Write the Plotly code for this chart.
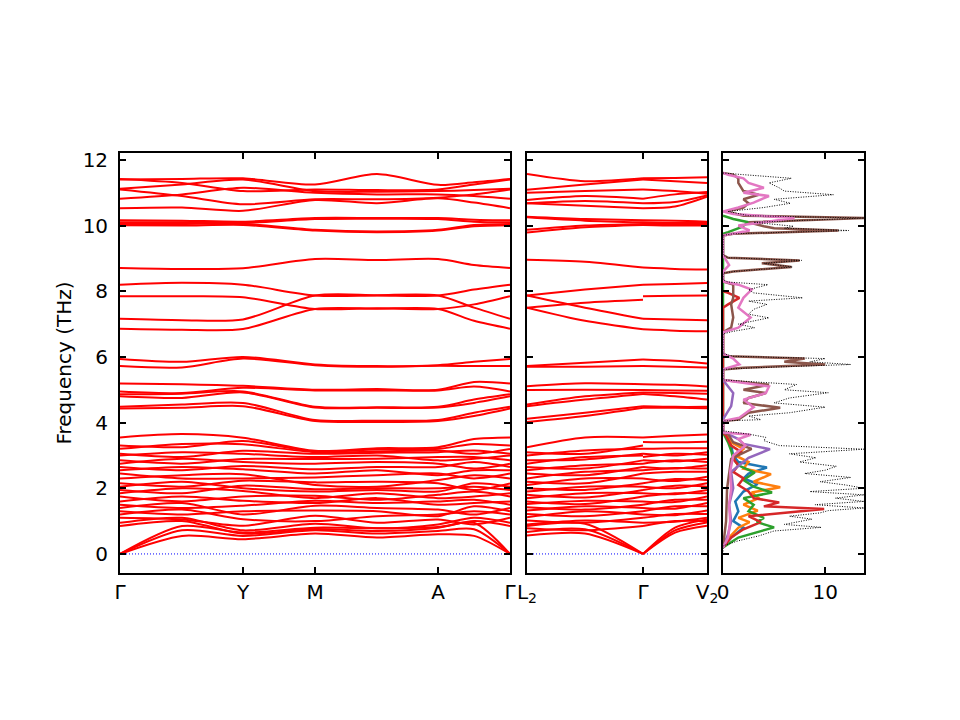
# phonon band structure + projected DOS
import plotly.graph_objects as go

# ---- k-path 1: G - Y - M - A - G (distances along path)
k1_ticks = [0.0, 1.23, 1.95, 3.18, 3.90]
k1_labels = ['Γ', 'Y', 'M', 'A', 'Γ']
k1 = [0.0, 0.62, 1.23, 1.95, 2.57, 3.18, 3.54, 3.90]

# frequencies (THz) of each band at the points in k1
path1_bands = [
    # acoustic
    [0.00, 0.55, 0.45, 0.62, 0.50, 0.60, 0.55, 0.00],
    [0.00, 0.72, 0.55, 0.72, 0.62, 0.70, 0.75, 0.00],
    [0.00, 0.85, 0.65, 0.80, 0.78, 0.82, 0.95, 0.00],
    # low optic
    [0.85, 1.00, 0.62, 0.76, 0.70, 0.80, 1.00, 0.85],
    [0.95, 1.10, 0.72, 0.92, 0.78, 0.90, 1.10, 0.95],
    [1.10, 1.05, 0.86, 1.16, 0.95, 1.05, 0.90, 1.10],
    [1.20, 1.35, 1.06, 1.00, 1.15, 1.20, 1.30, 1.20],
    [1.30, 1.20, 1.30, 1.32, 1.30, 1.15, 1.45, 1.30],
    [1.40, 1.55, 1.20, 1.47, 1.40, 1.35, 1.20, 1.40],
    [1.50, 1.40, 1.47, 1.62, 1.55, 1.60, 1.65, 1.50],
    [1.60, 1.75, 1.62, 1.55, 1.70, 1.50, 1.55, 1.60],
    [1.75, 1.60, 1.75, 1.77, 1.65, 1.80, 1.90, 1.75],
    [1.85, 2.00, 1.92, 1.70, 1.85, 1.70, 1.75, 1.85],
    [1.95, 1.85, 2.08, 1.97, 2.00, 2.00, 2.05, 1.95],
    [2.05, 2.20, 2.00, 1.90, 1.95, 1.90, 2.15, 2.05],
    [2.15, 2.05, 2.23, 2.18, 2.20, 2.15, 1.95, 2.15],
    [2.30, 2.40, 2.43, 2.10, 2.05, 2.25, 2.40, 2.30],
    [2.45, 2.30, 2.30, 2.33, 2.40, 2.45, 2.30, 2.45],
    [2.55, 2.65, 2.58, 2.45, 2.55, 2.40, 2.55, 2.55],
    [2.65, 2.55, 2.68, 2.58, 2.65, 2.65, 2.80, 2.65],
    [2.75, 2.90, 2.80, 2.75, 2.80, 2.75, 2.60, 2.75],
    [2.85, 2.75, 2.89, 2.89, 2.90, 2.95, 2.95, 2.85],
    [3.00, 3.10, 3.05, 2.95, 3.00, 2.85, 2.90, 3.00],
    [3.05, 2.95, 3.14, 3.05, 3.08, 3.10, 3.15, 3.05],
    [3.20, 3.35, 3.34, 3.10, 3.12, 3.15, 3.05, 3.20],
    [3.30, 3.25, 3.44, 3.12, 3.18, 3.20, 3.35, 3.30],
    [3.55, 3.65, 3.54, 3.14, 3.22, 3.25, 3.50, 3.55],
    # 4 - 5.2 THz
    [5.19, 5.17, 5.12, 5.00, 5.02, 5.00, 5.24, 5.19],
    [4.95, 4.90, 5.06, 4.98, 4.98, 4.98, 5.10, 4.95],
    [4.86, 4.88, 4.95, 4.48, 4.47, 4.48, 4.70, 4.86],
    [4.80, 4.75, 4.92, 4.46, 4.45, 4.46, 4.60, 4.80],
    [4.48, 4.55, 4.60, 4.08, 4.06, 4.08, 4.30, 4.48],
    [4.43, 4.45, 4.50, 4.05, 4.02, 4.05, 4.20, 4.43],
    # ~6 THz
    [5.94, 5.85, 6.00, 5.77, 5.72, 5.75, 5.85, 5.94],
    [5.72, 5.68, 5.95, 5.75, 5.70, 5.73, 5.72, 5.72],
    # 6.8 - 9 THz
    [6.86, 6.83, 6.85, 7.46, 7.47, 7.46, 7.10, 6.86],
    [7.16, 7.12, 7.14, 7.87, 7.88, 7.87, 7.50, 7.16],
    [7.85, 7.85, 7.82, 7.46, 7.48, 7.46, 7.60, 7.85],
    [8.20, 8.26, 8.20, 7.87, 7.87, 7.87, 8.05, 8.20],
    [8.71, 8.68, 8.70, 8.98, 8.95, 8.98, 8.80, 8.71],
    # 9.8 - 11.6 THz
    [10.01, 10.00, 10.02, 9.85, 9.80, 9.85, 9.98, 10.01],
    [10.05, 10.05, 10.05, 9.87, 9.82, 9.87, 10.02, 10.05],
    [10.10, 10.10, 10.08, 10.20, 10.21, 10.20, 10.12, 10.10],
    [10.16, 10.15, 10.12, 10.23, 10.23, 10.23, 10.18, 10.16],
    [10.53, 10.55, 10.45, 10.78, 10.68, 10.83, 10.70, 10.53],
    [10.82, 10.95, 11.15, 11.00, 10.95, 10.95, 10.90, 10.82],
    [11.10, 10.90, 10.65, 10.80, 10.80, 10.85, 10.95, 11.10],
    [11.12, 11.25, 11.40, 11.05, 11.03, 11.05, 11.08, 11.12],
    [11.40, 11.42, 11.44, 11.25, 11.57, 11.24, 11.32, 11.42],
    [11.42, 11.30, 11.05, 11.10, 11.08, 11.10, 11.25, 11.40],
]

# ---- k-path 2: L2 - G - V2
k2_ticks = [0.0, 1.16, 1.80]
k2_labels = ['L<sub>2</sub>', 'Γ', 'V<sub>2</sub>']
k2a = [0.0, 0.58, 1.16]
k2b = [1.16, 1.48, 1.80]

path2a_bands = [
    [0.56, 0.62, 0.00], [0.67, 0.75, 0.00], [0.85, 0.92, 0.00],
    [0.78, 0.72, 0.85], [0.90, 1.02, 0.95], [1.02, 0.95, 1.10],
    [1.12, 1.30, 1.20], [1.22, 1.15, 1.30], [1.32, 1.45, 1.40],
    [1.42, 1.35, 1.50], [1.52, 1.62, 1.60], [1.60, 1.52, 1.75],
    [1.70, 1.85, 1.85], [1.80, 1.72, 1.95], [1.90, 2.05, 2.05],
    [2.00, 1.95, 2.15], [2.10, 2.30, 2.30], [2.20, 2.15, 2.45],
    [2.30, 2.50, 2.55], [2.45, 2.40, 2.65], [2.55, 2.70, 2.75],
    [2.65, 2.60, 2.85], [2.75, 2.95, 3.00], [2.85, 2.88, 3.05],
    [3.00, 3.15, 3.20], [3.10, 3.05, 3.30], [3.25, 3.55, 3.55],
    [5.11, 5.20, 5.17], [4.99, 5.00, 4.99], [4.55, 4.80, 4.92],
    [4.50, 4.70, 4.87], [4.12, 4.30, 4.50], [4.02, 4.20, 4.45],
    [5.72, 5.82, 5.92], [5.70, 5.70, 5.72],
    [7.87, 8.05, 8.20], [7.87, 7.50, 7.16], [7.50, 7.65, 7.74],
    [7.50, 7.10, 6.84], [8.96, 8.90, 8.72],
    [10.27, 10.20, 10.16], [10.25, 10.15, 10.10], [9.87, 10.00, 10.05],
    [9.79, 9.95, 10.02], [10.68, 10.60, 10.53], [10.68, 10.75, 10.68],
    [10.78, 10.90, 10.82], [11.00, 11.05, 11.10], [11.09, 11.25, 11.40],
    [11.57, 11.35, 11.44],
]

path2b_bands = [
    [0.00, 0.65, 0.86], [0.00, 0.72, 0.96], [0.00, 0.80, 1.05],
    [0.85, 1.00, 1.00], [0.95, 0.98, 1.10], [1.10, 1.22, 1.22],
    [1.20, 1.18, 1.32], [1.30, 1.45, 1.45], [1.40, 1.38, 1.55],
    [1.50, 1.65, 1.65], [1.60, 1.58, 1.75], [1.75, 1.85, 1.85],
    [1.85, 1.82, 1.95], [1.95, 2.08, 2.05], [2.05, 2.00, 2.15],
    [2.15, 2.28, 2.25], [2.30, 2.22, 2.35], [2.45, 2.50, 2.50],
    [2.55, 2.62, 2.60], [2.65, 2.60, 2.70], [2.75, 2.85, 2.80],
    [2.85, 2.82, 2.90], [2.95, 3.05, 3.02], [3.05, 3.00, 3.10],
    [3.20, 3.22, 3.22], [3.41, 3.40, 3.42], [3.55, 3.60, 3.64],
    [5.17, 5.15, 5.10], [4.99, 4.98, 4.97], [4.92, 4.90, 4.88],
    [4.87, 4.80, 4.70], [4.50, 4.48, 4.48], [4.45, 4.45, 4.44],
    [5.92, 5.88, 5.80], [5.72, 5.70, 5.68],
    [8.20, 8.22, 8.25], [7.16, 7.14, 7.12], [7.85, 7.86, 7.87],
    [6.84, 6.80, 6.78], [8.72, 8.68, 8.66],
    [10.16, 10.15, 10.12], [10.10, 10.08, 10.08], [10.05, 10.05, 10.05],
    [10.02, 10.00, 10.00], [10.53, 10.58, 10.88], [10.68, 10.72, 10.92],
    [10.82, 10.95, 11.02], [11.10, 11.05, 10.97], [11.40, 11.35, 11.30],
    [11.44, 11.45, 11.47],
]

# ---- DOS (states/THz) vs frequency
dos_total_f = [0.0, 0.25, 0.4, 0.55, 0.7, 0.81, 0.9, 1.0, 1.06, 1.15, 1.25, 1.32, 1.4,
               1.5, 1.6, 1.7, 1.8, 1.9, 2.0, 2.1, 2.2, 2.33, 2.45, 2.55, 2.67, 2.8,
               2.93, 3.05, 3.19, 3.3, 3.45, 3.55, 3.65, 3.75, 4.0, 4.05, 4.09, 4.2,
               4.3, 4.47, 4.6, 4.75, 4.91, 5.0, 5.16, 5.26, 5.3, 5.62, 5.67, 5.77,
               5.85, 5.95, 6.02, 6.1, 6.7, 6.78, 6.89, 7.0, 7.19, 7.3, 7.45, 7.6,
               7.7, 7.8, 7.95, 8.05, 8.2, 8.28, 8.35, 8.55, 8.6, 8.74, 8.85, 8.94,
               9.02, 9.1, 9.7, 9.75, 9.85, 9.92, 9.98, 10.1, 10.23, 10.3, 10.43,
               10.55, 10.68, 10.8, 10.94, 11.05, 11.15, 11.3, 11.44, 11.55, 11.6]
dos_total = [0.0, 0.0, 1.5, 3.5, 5.0, 9.6, 6.0, 7.5, 8.7, 6.5, 9.5, 10.3, 13.8,
             9.0, 13.8, 11.0, 13.8, 8.5, 13.8, 12.0, 9.5, 12.5, 8.0, 10.0, 11.1, 7.5,
             9.1, 6.5, 13.8, 5.5, 4.0, 4.2, 2.5, 0.0, 0.0, 0.0, 3.7, 2.5,
             6.5, 10.0, 5.0, 6.5, 10.3, 6.0, 7.2, 2.0, 0.0, 0.0, 3.0, 12.5,
             8.5, 10.0, 1.0, 0.0, 0.0, 1.0, 3.1, 1.5, 4.5, 2.5, 3.0, 4.3,
             2.5, 7.8, 3.0, 2.5, 4.4, 0.5, 0.0, 0.0, 1.0, 6.8, 4.0, 7.7,
             0.5, 0.0, 0.0, 1.0, 12.3, 6.0, 6.9, 3.0, 13.8, 2.5, 0.5,
             4.0, 6.6, 5.0, 10.8, 6.0, 5.5, 4.5, 6.7, 2.0, 0.0]

pdos_blue_f = [0.2, 0.5, 0.8, 1.0, 1.3, 1.6, 1.9, 2.13, 2.3, 2.45, 2.63, 2.8, 3.0, 3.3, 3.6, 3.7]
pdos_blue = [0.0, 0.8, 2.0, 1.0, 1.5, 1.2, 2.0, 3.4, 2.0, 2.5, 4.3, 1.5, 1.0, 0.8, 0.3, 0.0]

pdos_orange_f = [0.2, 0.5, 0.8, 0.97, 1.1, 1.32, 1.5, 1.7, 1.87, 2.03, 2.2, 2.43, 2.6, 2.8,
                 3.0, 3.2, 3.4, 3.65, 3.7]
pdos_orange = [0.0, 0.6, 1.5, 2.6, 1.5, 3.4, 2.0, 3.5, 2.8, 5.6, 3.0, 4.7, 2.0, 2.5,
               1.2, 2.0, 0.8, 0.3, 0.0]

pdos_green_f = [0.2, 0.5, 0.81, 0.97, 1.1, 1.3, 1.5, 1.7, 1.87, 2.05, 2.25, 2.48, 2.7, 2.9,
                3.15, 3.4, 3.7, 9.75, 9.8, 9.95, 10.1, 10.2, 10.3]
pdos_green = [0.0, 1.5, 5.0, 3.3, 4.0, 2.5, 3.0, 2.0, 4.8, 3.0, 2.0, 3.1, 1.5, 1.0,
              0.8, 0.5, 0.0, 0.0, 0.5, 1.8, 2.5, 1.0, 0.0]

pdos_red_f = [0.2, 0.5, 0.75, 0.97, 1.15, 1.37, 1.45, 1.57, 1.7, 1.9, 2.1, 2.3, 2.5, 2.7,
              2.9, 3.1, 3.3, 3.6, 3.7, 7.5, 7.6, 7.8, 7.95, 8.0]
pdos_red = [0.0, 0.8, 2.0, 3.7, 2.5, 9.9, 4.0, 5.5, 3.0, 2.5, 1.5, 2.0, 1.0, 1.5,
            1.0, 1.8, 0.8, 0.3, 0.0, 0.0, 0.5, 1.6, 0.5, 0.0]

pdos_purple_f = [0.2, 0.6, 1.0, 1.5, 2.0, 2.5, 2.93, 3.19, 3.35, 3.5, 3.65, 3.7,
                 4.1, 4.5, 4.9, 5.1, 5.3]
pdos_purple = [0.0, 0.5, 0.8, 0.6, 1.0, 0.8, 2.5, 4.6, 2.0, 1.5, 0.5, 0.0,
               0.0, 0.8, 1.0, 0.5, 0.0]

pdos_brown_f = [0.2, 1.0, 2.0, 2.9, 3.2, 3.4, 3.65, 3.7, 4.05, 4.09, 4.3, 4.45, 4.6, 4.75,
                4.9, 5.0, 5.15, 5.26, 5.3, 5.62, 5.67, 5.77, 5.85, 5.95, 6.02, 6.1,
                6.75, 6.89, 7.2, 7.6, 7.8, 8.2, 8.3, 8.55, 8.6, 8.74, 8.85, 8.94, 9.02,
                9.1, 9.7, 9.75, 9.85, 9.92, 9.98, 10.1, 10.23, 10.3, 10.43, 10.55,
                10.68, 10.8, 10.94, 11.05, 11.3, 11.44, 11.55, 11.6]
pdos_brown = [0.0, 0.3, 0.4, 0.8, 2.8, 1.0, 0.5, 0.0, 0.0, 1.5, 2.5, 5.6, 2.0, 2.5,
              4.2, 2.0, 4.5, 1.0, 0.0, 0.0, 2.0, 10.0, 6.0, 8.0, 0.5, 0.0,
              0.0, 0.8, 1.0, 0.8, 1.0, 1.0, 0.0, 0.0, 1.0, 6.7, 3.8, 7.5, 0.5,
              0.0, 0.0, 1.0, 11.3, 5.0, 4.0, 2.5, 13.8, 2.0, 0.3, 2.0,
              2.5, 2.0, 3.5, 2.0, 1.5, 1.5, 1.0, 0.0]

pdos_pink_f = [0.2, 0.5, 1.0, 1.5, 2.0, 2.5, 3.0, 3.3, 3.5, 3.63, 3.7, 4.05, 4.15, 4.47,
               4.7, 4.9, 5.1, 5.26, 5.3, 5.62, 5.77, 5.95, 6.1, 6.75, 6.89, 7.2, 7.5,
               7.8, 8.05, 8.2, 8.3, 8.6, 8.8, 9.1, 9.7, 9.85, 10.0, 10.23, 10.35,
               10.43, 10.55, 10.7, 10.9, 11.0, 11.15, 11.3, 11.44, 11.55, 11.6]
pdos_pink = [0.0, 0.5, 0.7, 0.6, 0.8, 0.7, 1.0, 2.2, 1.5, 2.7, 0.0, 0.0, 1.6, 3.0,
             2.0, 4.2, 4.5, 1.0, 0.0, 0.0, 1.6, 1.0, 0.0, 0.0, 1.5, 2.7, 1.5,
             2.0, 2.8, 1.5, 0.0, 0.0, 0.6, 0.0, 0.0, 2.6, 1.5, 7.0, 1.0,
             0.0, 1.5, 3.0, 4.5, 2.0, 4.0, 2.5, 2.0, 0.5, 0.0]

pdos = [
    (pdos_blue_f, pdos_blue, '#1f77b4'),
    (pdos_orange_f, pdos_orange, '#ff7f0e'),
    (pdos_green_f, pdos_green, '#2ca02c'),
    (pdos_red_f, pdos_red, '#d62728'),
    (pdos_purple_f, pdos_purple, '#9467bd'),
    (pdos_brown_f, pdos_brown, '#8c564b'),
    (pdos_pink_f, pdos_pink, '#e377c2'),
]

y_range = [-0.58, 12.21]
y_ticks = [0, 2, 4, 6, 8, 10, 12]
dos_range = [0, 13.8]
dos_ticks = [0, 10]


def band_trace(ks, bands, xa, ya):
    xs, ys = [], []
    for b in bands:
        xs += list(ks) + [None]
        ys += list(b) + [None]
    return go.Scatter(x=xs, y=ys, mode='lines', xaxis=xa, yaxis=ya,
                      line=dict(color='red', width=2, shape='spline', smoothing=0.8),
                      hoverinfo='skip', showlegend=False)


def zero_line(x0, x1, xa, ya):
    return go.Scatter(x=[x0, x1], y=[0, 0], mode='lines', xaxis=xa, yaxis=ya,
                      line=dict(color='blue', width=1, dash='1px,2px'),
                      hoverinfo='skip', showlegend=False)


fig = go.Figure()
fig.add_trace(zero_line(k1_ticks[0], k1_ticks[-1], 'x', 'y'))
fig.add_trace(band_trace(k1, path1_bands, 'x', 'y'))
fig.add_trace(zero_line(k2_ticks[0], k2_ticks[-1], 'x2', 'y2'))
fig.add_trace(band_trace(k2a, path2a_bands, 'x2', 'y2'))
fig.add_trace(band_trace(k2b, path2b_bands, 'x2', 'y2'))

for f, d, c in pdos:
    fig.add_trace(go.Scatter(x=d, y=f, mode='lines', xaxis='x3', yaxis='y3',
                             line=dict(color=c, width=2.5), showlegend=False))
fig.add_trace(go.Scatter(x=dos_total, y=dos_total_f, mode='lines', xaxis='x3', yaxis='y3',
                         line=dict(color='black', width=1, dash='1px,1.5px'),
                         showlegend=False))

font = dict(family='DejaVu Sans', size=20, color='black')
common = dict(showline=True, linecolor='black', linewidth=1.8, mirror='ticks',
              ticks='inside', ticklen=6, tickwidth=1.5, tickcolor='black',
              showgrid=False, zeroline=False, tickfont=font, automargin=False)

# page body adds ~8px offset, so positions are given in screen px minus 8
off = 8
W, H = 960, 720


def xdom(a, b):
    return [(a - off) / W, (b - off) / W]


ydom = [1 - (573 - off) / H, 1 - (153 - off) / H]

fig.update_layout(
    width=W, height=H,
    margin=dict(l=0, r=0, t=0, b=0),
    paper_bgcolor='white', plot_bgcolor='white',
    showlegend=False,
    xaxis=dict(domain=xdom(120, 510), range=[k1_ticks[0], k1_ticks[-1]],
               tickvals=k1_ticks, ticktext=k1_labels, anchor='y', **common),
    yaxis=dict(domain=ydom, range=y_range, tickvals=y_ticks, anchor='x',
               title=dict(text='Frequency (THz)', font=font, standoff=6),
               ticklabelstandoff=6, **common),
    xaxis2=dict(domain=xdom(527, 707), range=[k2_ticks[0], k2_ticks[-1]],
                tickvals=k2_ticks, ticktext=k2_labels, anchor='y2', **common),
    yaxis2=dict(domain=ydom, range=y_range, tickvals=y_ticks, showticklabels=False,
                anchor='x2', **common),
    xaxis3=dict(domain=xdom(723, 864), range=dos_range, tickvals=dos_ticks,
                anchor='y3', **common),
    yaxis3=dict(domain=ydom, range=y_range, tickvals=y_ticks, showticklabels=False,
                anchor='x3', **common),
)

fig.write_html("out.html")
